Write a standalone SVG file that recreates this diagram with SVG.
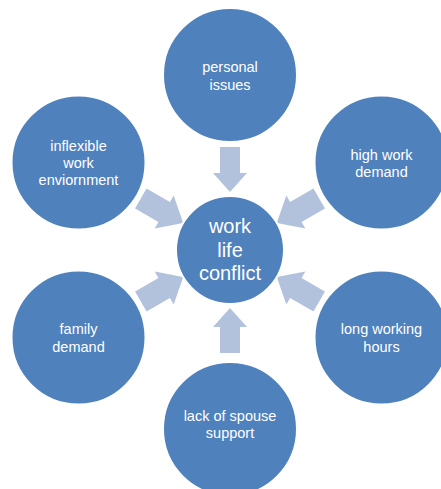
<svg xmlns="http://www.w3.org/2000/svg" xmlns:xlink="http://www.w3.org/1999/xlink" width="441" height="489" viewBox="0 0 441 489">
<style>
.node{fill:#4F81BD;stroke:#FFFFFF;stroke-width:2}
.lbl{fill:#FFFFFF;font-family:"Liberation Sans",Arial,sans-serif;font-size:14.5px;text-anchor:middle}
.big{font-size:20px}
.arr{fill:#B3C2DC}
</style>
<defs>
<path id="arrow" class="arr" d="M -10,-103 L 10,-103 L 10,-77 L 17,-77 L 0,-58 L -17,-77 L -10,-77 Z"/>
<path id="arrowd" class="arr" d="M -11.5,-103 L 11.5,-103 L 11.5,-76 L 19,-76 L 0,-54 L -19,-76 L -11.5,-76 Z"/>
</defs>
<rect width="441" height="489" fill="#FFFFFF"/>
<g id="connectors">
<use xlink:href="#arrow" transform="translate(230,250) rotate(0)"/>
<use xlink:href="#arrowd" transform="translate(230,250) rotate(60)"/>
<use xlink:href="#arrowd" transform="translate(230,250) rotate(120)"/>
<use xlink:href="#arrow" transform="translate(230,250) rotate(180)"/>
<use xlink:href="#arrowd" transform="translate(230,250) rotate(240)"/>
<use xlink:href="#arrowd" transform="translate(230,250) rotate(300)"/>
</g>
<g id="center">
<circle class="node" cx="230" cy="250" r="54"/>
<text class="lbl big" x="230" y="233">work</text>
<text class="lbl big" x="230" y="257">life</text>
<text class="lbl big" x="230" y="280">conflict</text>
</g>
<g id="personal">
<circle class="node" cx="230" cy="75" r="67"/>
<text class="lbl" x="230" y="72">personal</text>
<text class="lbl" x="230" y="90">issues</text>
</g>
<g id="high">
<circle class="node" cx="381.5" cy="162.5" r="67"/>
<text class="lbl" x="381.5" y="160">high work</text>
<text class="lbl" x="381.5" y="177">demand</text>
</g>
<g id="long">
<circle class="node" cx="381.5" cy="337.5" r="67"/>
<text class="lbl" x="381.5" y="334">long working</text>
<text class="lbl" x="381.5" y="352">hours</text>
</g>
<g id="spouse">
<circle class="node" cx="230" cy="429" r="67"/>
<text class="lbl" x="230" y="421">lack of spouse</text>
<text class="lbl" x="230" y="438">support</text>
</g>
<g id="family">
<circle class="node" cx="78.5" cy="337.5" r="67"/>
<text class="lbl" x="78.5" y="334">family</text>
<text class="lbl" x="78.5" y="352">demand</text>
</g>
<g id="inflexible">
<circle class="node" cx="78.5" cy="162.5" r="67"/>
<text class="lbl" x="78.5" y="151">inflexible</text>
<text class="lbl" x="78.5" y="168">work</text>
<text class="lbl" x="78.5" y="185">enviornment</text>
</g>
</svg>
